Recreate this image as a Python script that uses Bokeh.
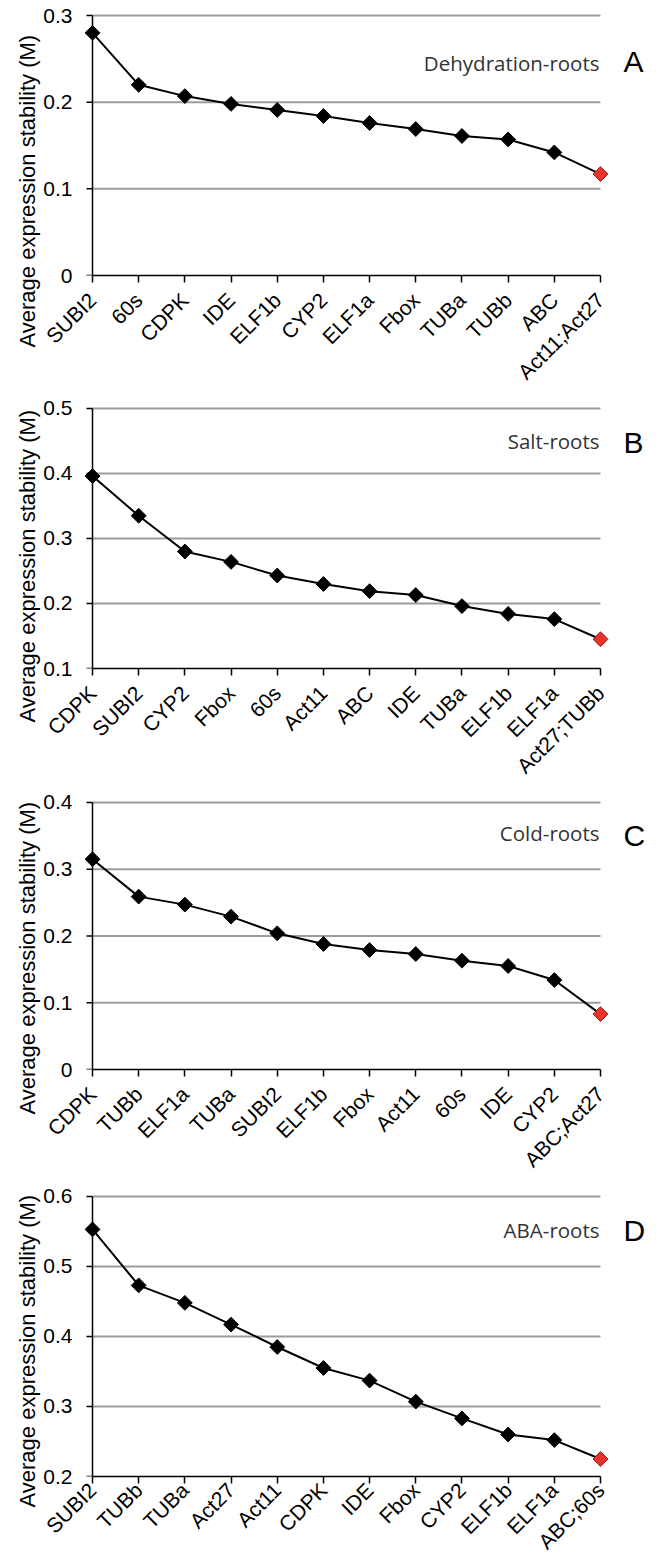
from math import pi
from bokeh.plotting import figure
from bokeh.layouts import column
from bokeh.models import FixedTicker, Label, Range1d, Title
from bokeh.embed import file_html
from bokeh.resources import INLINE

# ---------------- data ----------------
a_genes = ["SUBI2", "60s", "CDPK", "IDE", "ELF1b", "CYP2", "ELF1a", "Fbox", "TUBa", "TUBb", "ABC", "Act11;Act27"]
a_values = [0.280, 0.220, 0.207, 0.198, 0.191, 0.184, 0.176, 0.169, 0.161, 0.157, 0.142, 0.117]
a_yticks = [0, 0.1, 0.2, 0.3]
a_ylabels = ["0", "0.1", "0.2", "0.3"]

b_genes = ["CDPK", "SUBI2", "CYP2", "Fbox", "60s", "Act11", "ABC", "IDE", "TUBa", "ELF1b", "ELF1a", "Act27;TUBb"]
b_values = [0.396, 0.335, 0.280, 0.264, 0.243, 0.230, 0.219, 0.213, 0.196, 0.184, 0.176, 0.145]
b_yticks = [0.1, 0.2, 0.3, 0.4, 0.5]
b_ylabels = ["0.1", "0.2", "0.3", "0.4", "0.5"]

c_genes = ["CDPK", "TUBb", "ELF1a", "TUBa", "SUBI2", "ELF1b", "Fbox", "Act11", "60s", "IDE", "CYP2", "ABC;Act27"]
c_values = [0.315, 0.259, 0.247, 0.229, 0.204, 0.188, 0.179, 0.173, 0.163, 0.155, 0.134, 0.083]
c_yticks = [0, 0.1, 0.2, 0.3, 0.4]
c_ylabels = ["0", "0.1", "0.2", "0.3", "0.4"]

d_genes = ["SUBI2", "TUBb", "TUBa", "Act27", "Act11", "CDPK", "IDE", "Fbox", "CYP2", "ELF1b", "ELF1a", "ABC;60s"]
d_values = [0.553, 0.473, 0.448, 0.417, 0.385, 0.355, 0.337, 0.307, 0.283, 0.260, 0.252, 0.225]
d_yticks = [0.2, 0.3, 0.4, 0.5, 0.6]
d_ylabels = ["0.2", "0.3", "0.4", "0.5", "0.6"]

y_title = "Average expression stability (M)"
conditions = ["Dehydration-roots", "Salt-roots", "Cold-roots", "ABA-roots"]
letters = ["A", "B", "C", "D"]

# ---------------- layout (page pixels) ----------------
AX_PX = 92      # y axis / first category
LAST_PX = 600   # last category
FRAME_L = 82
FRAME_R = 658
PAD = 3         # px padding above the top tick
W = FRAME_R
YTICK_LEN = 6


def make_panel(genes, values, yticks, ylabels, cond, letter,
               canvas_top, canvas_bottom, tick_top, tick_bottom,
               title_mid, letter_mid, ylab_bottom, xlabel_standoff):
    n = len(genes)
    unit = (LAST_PX - AX_PX) / (n - 1)
    y0, y1 = yticks[0], yticks[-1]
    ypx = (tick_bottom - tick_top) / (y1 - y0)  # px per data unit
    pad = PAD / ypx
    frame_top = tick_top - PAD
    frame_bottom = tick_bottom

    def px_x(px):
        return (px - AX_PX) / unit

    def px_y(py):
        return y1 - (py - tick_top) / ypx

    p = figure(width=W, height=canvas_bottom - canvas_top,
               x_range=Range1d(px_x(FRAME_L), px_x(FRAME_R)),
               y_range=Range1d(y0, y1 + pad),
               output_backend="svg", toolbar_location=None,
               min_border_left=FRAME_L, min_border_right=0,
               min_border_top=frame_top - canvas_top,
               min_border_bottom=canvas_bottom - frame_bottom)
    p.outline_line_color = None
    p.background_fill_color = "white"
    p.border_fill_color = "white"
    p.xgrid.visible = False
    p.ygrid.visible = False

    xs = list(range(n))

    # grid lines
    gy = yticks[1:]
    p.segment(x0=[xs[0]] * len(gy), x1=[xs[-1]] * len(gy), y0=gy, y1=gy,
              line_color="#9c9c9c", line_width=2)

    # y axis line and ticks at the first category
    p.segment(x0=[xs[0]], x1=[xs[0]], y0=[y0], y1=[y1],
              line_color="black", line_width=1.5)
    p.segment(x0=[px_x(AX_PX - YTICK_LEN)] * len(yticks), x1=[xs[0]] * len(yticks),
              y0=yticks, y1=yticks, line_color="black", line_width=1.5)

    # x axis
    xa = p.xaxis[0]
    xa.ticker = FixedTicker(ticks=xs)
    xa.major_label_overrides = {i: g for i, g in zip(xs, genes)}
    xa.bounds = (xs[0], xs[-1])
    xa.major_label_orientation = pi / 4
    xa.major_tick_out = 7
    xa.major_tick_in = 0
    xa.minor_tick_out = 0
    xa.minor_tick_in = 0
    xa.major_label_standoff = xlabel_standoff
    xa.axis_line_width = 1.5
    xa.axis_line_color = "black"
    xa.major_tick_line_width = 1.5
    xa.major_label_text_font = "Liberation Sans"
    xa.major_label_text_font_size = "21px"
    xa.major_label_text_font_style = "normal"
    xa.major_label_text_color = "black"

    # y axis (labels only; line drawn above)
    ya = p.yaxis[0]
    ya.ticker = FixedTicker(ticks=yticks)
    ya.major_label_overrides = {t: l for t, l in zip(yticks, ylabels)}
    ya.axis_line_color = None
    ya.major_tick_line_color = None
    ya.minor_tick_line_color = None
    ya.major_tick_out = 0
    ya.major_tick_in = 0
    ya.minor_tick_out = 0
    ya.minor_tick_in = 0
    ya.major_label_standoff = 10
    ya.major_label_text_font = "Liberation Sans"
    ya.major_label_text_font_size = "21px"
    ya.major_label_text_color = "black"

    # y title on the left
    p.add_layout(Title(text=y_title, align="left", offset=-(ylab_bottom - frame_bottom),
                       standoff=2, text_font="Liberation Sans", text_font_size="22px",
                       text_font_style="normal", text_color="black"), "left")

    # data
    p.line(xs, values, line_color="black", line_width=2)
    p.scatter(xs[:-1], values[:-1], marker="square", angle=pi / 4, size=10.5,
              fill_color="black", line_color="black")
    p.scatter(xs[-1:], values[-1:], marker="square", angle=pi / 4, size=10.5,
              fill_color="#e8322c", line_color="#9a1a1a", line_width=1)

    # texts
    p.add_layout(Label(x=px_x(599), y=px_y(title_mid), text=cond,
                       text_align="right", text_baseline="middle",
                       text_font="Open Sans", text_font_size="20.5px",
                       text_color="#333333"))
    p.add_layout(Label(x=px_x(623), y=px_y(letter_mid), text=letter,
                       text_align="left", text_baseline="middle",
                       text_font="Liberation Sans", text_font_size="30px",
                       text_color="black"))
    return p


pA = make_panel(a_genes, a_values, a_yticks, a_ylabels, conditions[0], letters[0],
                0, 395, 15, 275, 62, 61, 347, 14)
pB = make_panel(b_genes, b_values, b_yticks, b_ylabels, conditions[1], letters[1],
                395, 788, 408, 669, 440.5, 442.5, 723, 14)
pC = make_panel(c_genes, c_values, c_yticks, c_ylabels, conditions[2], letters[2],
                788, 1182, 802, 1070, 832.5, 835, 1115, 14)
pD = make_panel(d_genes, d_values, d_yticks, d_ylabels, conditions[3], letters[3],
                1182, 1564, 1196, 1478, 1230, 1230.5, 1509, 3)

layout = column(pA, pB, pC, pD, spacing=0)
open("out.html", "w").write(file_html(layout, INLINE))
